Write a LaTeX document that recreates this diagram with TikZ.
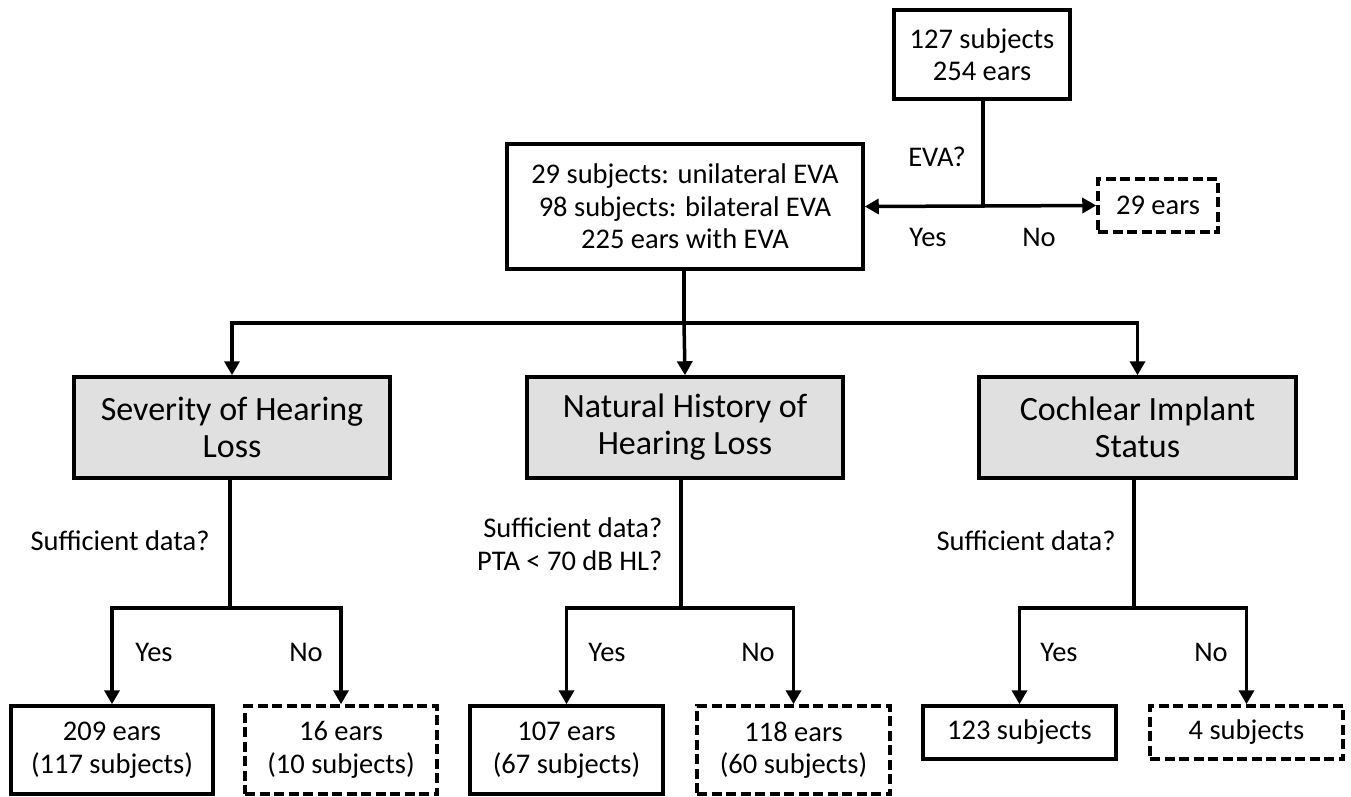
\documentclass[tikz,border=0pt]{standalone}
\usepackage{fontspec}
\setmainfont{Carlito}
\usetikzlibrary{arrows.meta,calc}
\definecolor{boxgray}{RGB}{224,224,224}
\begin{document}
\begin{tikzpicture}[x=1pt,y=-1pt,
  line width=3.5pt,
  every node/.style={font=\fontsize{28.5}{32.5}\selectfont},
  solidbox/.style={draw, line width=3.5pt, rectangle, align=center, inner sep=0pt},
  dashbox/.style={solidbox, dash pattern=on 10pt off 4.5pt},
  graybox/.style={solidbox, fill=boxgray, font=\fontsize{34}{37}\selectfont},
  lbl/.style={anchor=base, inner sep=0pt},
  arr/.style={-{Triangle[width=15pt,length=14pt]}},
]
\useasboundingbox (0,0) rectangle (1351,796);

% boxes
\node[solidbox, minimum width=176pt, minimum height=89pt] (top) at (982,54.5) {127 subjects\\254 ears};
\node[solidbox, minimum width=356pt, minimum height=125pt] (mid) at (685,206.5) {29 subjects: unilateral EVA\\98 subjects: bilateral EVA\\225 ears with EVA};
\node[dashbox, minimum width=120pt, minimum height=53pt] (no0) at (1158,205.5) {29 ears};

\node[graybox, minimum width=316pt, minimum height=101pt] (g1) at (232,427.5) {Severity of Hearing\\Loss};
\node[graybox, minimum width=316pt, minimum height=101pt] (g2) at (685,427.5) {Natural History of\\Hearing Loss};
\node[graybox, minimum width=317pt, minimum height=101pt] (g3) at (1137.5,427.5) {Cochlear Implant\\Status};

\node[solidbox, minimum width=202pt, minimum height=88pt] (b1) at (112,750) {209 ears\\(117 subjects)};
\node[dashbox, minimum width=192pt, minimum height=88pt] (b2) at (341,750) {16 ears\\(10 subjects)};
\node[solidbox, minimum width=193pt, minimum height=88pt] (b3) at (566.5,750) {107 ears\\(67 subjects)};
\node[dashbox, minimum width=193pt, minimum height=88pt] (b4) at (793.5,750) {118 ears\\(60 subjects)};
\node[solidbox, minimum width=193pt, minimum height=53pt] (b5) at (1019.5,732.5) {123 subjects};
\node[dashbox, minimum width=193pt, minimum height=53pt] (b6) at (1246.5,732.5) {4 subjects};

% junction coordinates
\coordinate (j0) at (983,206);
\coordinate (bus) at (684,323);
\coordinate (j1) at (230,608);
\coordinate (j2) at (681,608);
\coordinate (j3) at (1134,608);

% top split
\draw (top.south -| j0) -- (j0);
\draw[arr] (j0) -- (mid.east);
\draw[arr] (j0) -- (no0.west);

% bus
\draw (mid.south -| bus) -- (bus);
\draw[arr] (bus) -| (g1.north);
\draw[arr] (bus) -| (g3.north);
\draw[arr] (bus) -- (g2.north);

% branches
\draw (g1.south -| j1) -- (j1);
\draw[arr] (j1) -| (b1.north);
\draw[arr] (j1) -| (b2.north);
\draw (g2.south -| j2) -- (j2);
\draw[arr] (j2) -| (b3.north);
\draw[arr] (j2) -| (b4.north);
\draw (g3.south -| j3) -- (j3);
\draw[arr] (j3) -| (b5.north);
\draw[arr] (j3) -| (b6.north);

% labels
\node[lbl] (q0) at (937,166) {EVA?};
\node[lbl] (y0) at (928,246) {Yes};
\node[lbl] (n0) at (1039,246) {No};

\node[lbl] (q1) at (120,550) {Sufficient data?};
\node[lbl] (y1) at (154,661) {Yes};
\node[lbl] (n1) at (306,661) {No};

\node[anchor=base east, inner sep=0pt] (q2a) at (664,537) {Sufficient data?};
\node[anchor=base east, inner sep=0pt] (q2b) at (664,570.5) {PTA < 70 dB HL?};
\node[lbl] (y2) at (607,661) {Yes};
\node[lbl] (n2) at (758,661) {No};

\node[lbl] (q3) at (1026,550) {Sufficient data?};
\node[lbl] (y3) at (1059,661) {Yes};
\node[lbl] (n3) at (1211,661) {No};
\end{tikzpicture}
\end{document}
